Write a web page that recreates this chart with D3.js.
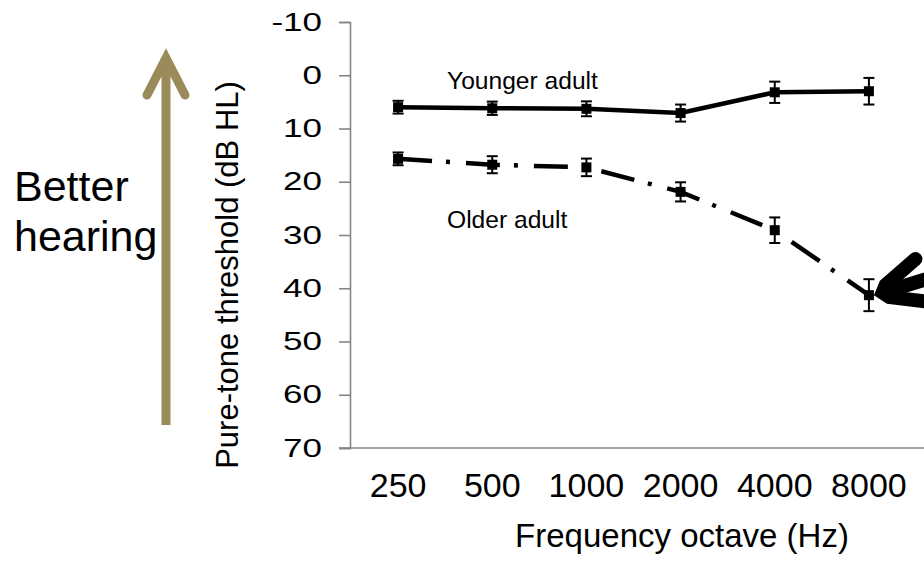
<!DOCTYPE html>
<html>
<head>
<meta charset="utf-8">
<script src="https://cdn.jsdelivr.net/npm/d3@7"></script>
<style>
  body { margin: 0; background: #fff; }
  svg { display: block; font-family: "Liberation Sans", Arial, sans-serif; }
</style>
</head>
<body>
<svg id="chart" width="924" height="563"></svg>
<script>
// Audiogram data: mean pure-tone threshold (dB HL) +/- error, per octave
const freqs = ['250', '500', '1000', '2000', '4000', '8000']
const youngerMean = [6.0, 6.2, 6.3, 7.1, 3.2, 3.0]
const youngerErr = [1.2, 1.25, 1.4, 1.6, 2.0, 2.5]
const olderMean = [15.7, 16.8, 17.3, 21.9, 29.1, 41.3]
const olderErr = [1.2, 1.6, 1.65, 1.8, 2.4, 3.0]
const yTicks = [-10, 0, 10, 20, 30, 40, 50, 60, 70]

const svg = d3.select('#chart')
const x = d3.scaleBand().domain(freqs).range([351, 916])
const y = d3.scaleLinear().domain([-10, 70]).range([22, 448])
const axisColor = '#858585'

// "Better hearing" arrow
const olive = '#9b8b5b'
svg.append('line')
  .attr('x1', 166).attr('y1', 425).attr('x2', 166).attr('y2', 60)
  .attr('stroke', olive).attr('stroke-width', 9)
svg.append('path')
  .attr('d', 'M147,95L166,58L185,95')
  .attr('fill', 'none').attr('stroke', olive).attr('stroke-width', 9)
  .attr('stroke-linecap', 'round').attr('stroke-linejoin', 'miter')
svg.append('text').attr('x', 14).attr('y', 201)
  .attr('font-size', 43).text('Better')
svg.append('text').attr('x', 14).attr('y', 251)
  .attr('font-size', 43).text('hearing')

// Y axis
const yAxis = svg.append('g')
  .attr('transform', 'translate(350,0)')
  .call(d3.axisLeft(y).tickValues(yTicks).tickFormat(d => String(d)).tickSize(11).tickPadding(17))
yAxis.select('.domain').attr('stroke', axisColor).attr('stroke-width', 1.6)
yAxis.selectAll('.tick line').attr('stroke', axisColor).attr('stroke-width', 1.6)
yAxis.selectAll('.tick text')
  .attr('font-size', 35).attr('fill', '#000')
  .attr('font-family', '"Liberation Sans", Arial, sans-serif')
  .attr('transform', 'scale(1,0.73)')

// X axis (labels only, line drawn separately)
const xAxis = svg.append('g')
  .attr('transform', 'translate(0,448)')
  .call(d3.axisBottom(x).tickSize(0).tickPadding(25))
xAxis.select('.domain').remove()
xAxis.selectAll('.tick text')
  .attr('font-size', 34).attr('fill', '#000')
  .attr('font-family', '"Liberation Sans", Arial, sans-serif')
svg.append('line')
  .attr('x1', 339).attr('x2', 924).attr('y1', y(70)).attr('y2', y(70))
  .attr('stroke', axisColor).attr('stroke-width', 1.6)

// Axis titles
svg.append('text')
  .attr('transform', 'translate(238,275) rotate(-90)')
  .attr('text-anchor', 'middle').attr('font-size', 31)
  .text('Pure-tone threshold (dB HL)')
svg.append('text')
  .attr('x', 682).attr('y', 547)
  .attr('text-anchor', 'middle').attr('font-size', 33)
  .text('Frequency octave (Hz)')

// Series
const series = [
  { name: 'Younger adult', mean: youngerMean, err: youngerErr, dash: null },
  { name: 'Older adult', mean: olderMean, err: olderErr, dash: '34,14,4,16' }
]
const cx = i => x(freqs[i]) + x.bandwidth() / 2
const line = d3.line().x((d, i) => cx(i)).y(d => y(d))

series.forEach(s => {
  svg.append('path')
    .attr('d', line(s.mean))
    .attr('fill', 'none').attr('stroke', '#000').attr('stroke-width', 4.5)
    .attr('stroke-dasharray', s.dash)
  const g = svg.append('g')
  const pts = g.selectAll('g').data(s.mean).join('g')
  pts.append('line')
    .attr('x1', (d, i) => cx(i)).attr('x2', (d, i) => cx(i))
    .attr('y1', (d, i) => y(d - s.err[i])).attr('y2', (d, i) => y(d + s.err[i]))
    .attr('stroke', '#000').attr('stroke-width', 2)
  ;[-1, 1].forEach(sign => {
    pts.append('line')
      .attr('x1', (d, i) => cx(i) - 5.5).attr('x2', (d, i) => cx(i) + 5.5)
      .attr('y1', (d, i) => y(d + sign * s.err[i])).attr('y2', (d, i) => y(d + sign * s.err[i]))
      .attr('stroke', '#000').attr('stroke-width', 2)
  })
  pts.append('rect')
    .attr('x', (d, i) => cx(i) - 5).attr('y', d => y(d) - 5)
    .attr('width', 10).attr('height', 10).attr('fill', '#000')
})

// Series labels
svg.append('text').attr('x', 447).attr('y', 89).attr('font-size', 24.6).text('Younger adult')
svg.append('text').attr('x', 447).attr('y', 228).attr('font-size', 24.6).text('Older adult')

// Black arrow pointing at the older 8000 Hz point
const tipX = cx(5) + 5, tipY = y(olderMean[5])
const prong = (angDeg, len) => {
  const a = angDeg * Math.PI / 180
  const ux = Math.cos(a), uy = Math.sin(a)
  const px = -uy * 7, py = ux * 7
  const mx = tipX + 14 * ux, my = tipY + 14 * uy
  const ex = tipX + len * ux, ey = tipY + len * uy
  return `M${tipX},${tipY}L${mx + px},${my + py}L${ex + px},${ey + py}` +
    `A7,7 0 0 0 ${ex - px},${ey - py}L${mx - px},${my - py}Z`
}
const arrow = svg.append('g').attr('fill', '#000')
arrow.append('path').attr('d', prong(-41, 55))
arrow.append('path').attr('d', prong(-17, 120))
arrow.append('path').attr('d', prong(7, 60))
</script>
</body>
</html>
